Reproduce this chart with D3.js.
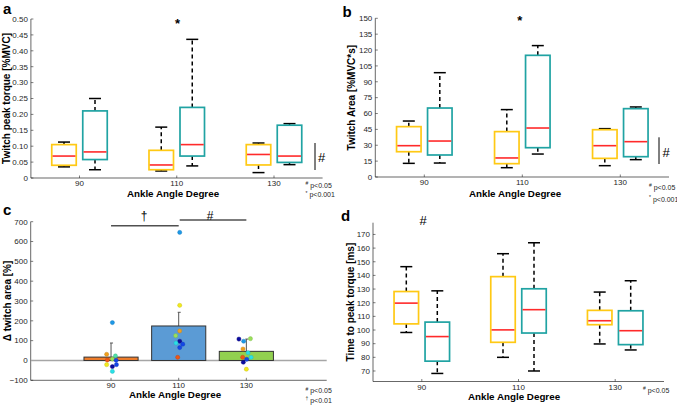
<!DOCTYPE html>
<html><head><meta charset="utf-8">
<script src="https://cdn.jsdelivr.net/npm/d3@7"></script>
<style>body{margin:0;background:#fff}svg{display:block;font-family:"Liberation Sans",Arial,Helvetica,sans-serif}</style>
</head><body><svg id="chart" width="677" height="405"></svg>
<script>
// ---------------- DATA ----------------
const angles = [90, 110, 130];
// five-number summaries: [lower whisker, Q1, median, Q3, upper whisker]
const torqueYellow = [[0.035,0.040,0.069,0.105,0.113],[0.022,0.026,0.041,0.087,0.160],[0.017,0.041,0.074,0.105,0.110]];
const torqueTeal   = [[0.026,0.058,0.082,0.211,0.250],[0.038,0.069,0.105,0.222,0.436],[0.042,0.049,0.069,0.166,0.171]];
const areaYellow   = [[12.9,23.9,29.6,47.6,52.9],[8.8,12.6,18.0,42.9,63.7],[10.7,17.6,29.6,44.7,45.7]];
const areaTeal     = [[13.2,20.8,34.0,65.2,98.6],[21.7,27.7,46.3,115.0,124.2],[16.4,19.2,33.4,64.6,66.2]];
const ttpYellow    = [[98.2,104.5,119.7,128.2,146.4],[80.0,91.0,100.1,139.1,155.9],[89.8,103.9,106.8,114.4,127.8]];
const ttpTeal      = [[68.2,77.2,95.2,105.8,128.7],[70.0,97.8,114.9,130.2,163.9],[85.4,89.3,99.5,114.1,136.1]];
const torqueTicks = [0,0.05,0.10,0.15,0.20,0.25,0.30,0.35,0.40,0.45,0.50];
const areaTicks = [0,15,30,45,60,75,90,105,120,135,150];
const ttpTicks = [70,80,90,100,110,120,130,140,150,160,170];
// panel c: mean change in twitch area and SD
const deltaMean = [17, 174, 46];
const deltaSD = [71, 69, 62];
const deltaTicks = [-100,0,100,200,300,400,500,600,700];
// individual subjects (value, x-jitter in degrees, colour index)
const pts90  = [191, 31, 23, 7, 2, 1, -21, -21, -31, -55];
const jit90  = [0.4,-1.3,1.3,0.4,-1.1,1.5,-1.3,1.6,0.4,0.4];
const col90  = [2,7,4,5,8,1,6,1,0,3];
const pts110 = [646, 278, 149, 125, 97, 88, 82, 65, 16];
const jit110 = [0.3,0.3,0.3,-0.9,0.3,-0.8,1.2,0.3,-0.3];
const col110 = [2,6,7,5,0,3,1,1,8];
const pts130 = [108, 97, 110, 58, 39, 16, 16, 6, -9, -44];
const jit130 = [-2.2,-0.8,1.2,-1.0,0.5,-1.1,1.4,0.1,-0.9,0];
const col130 = [0,2,5,7,3,8,3,1,0,6];
const dotPalette = ["#0c0c9e","#1446e6","#1e98e6","#2ae0e6","#4ee0a6","#9ae05a","#f2ea1e","#f0a01e","#ee5614"];

// ---------------- STYLE ----------------
const YEL = "#FFC914", TEAL = "#20A3A3", MED = "#FF2A2A", AX = "#262626";
const barColors = ["#F07D2A","#5B9BD5","#92D050"];
const svg = d3.select("#chart");

function yAxisDraw(g, y, x0, ticks, fmt){
  g.append("line").attr("x1",x0).attr("x2",x0).attr("y1",y.range()[0]).attr("y2",y.range()[1])
    .attr("stroke",AX).attr("stroke-width",0.7);
  ticks.forEach(t=>{
    g.append("line").attr("x1",x0).attr("x2",x0+2.5).attr("y1",y(t)).attr("y2",y(t)).attr("stroke",AX).attr("stroke-width",0.6);
    g.append("text").attr("x",x0-3).attr("y",y(t)+2.8).attr("text-anchor","end")
      .attr("font-size",8).attr("fill",AX).text(fmt(t));
  });
}
function xAxisDraw(g, x, x0, x1, yb, cats){
  g.append("line").attr("x1",x0).attr("x2",x1).attr("y1",yb).attr("y2",yb).attr("stroke",AX).attr("stroke-width",0.7);
  cats.forEach(c=>{
    g.append("line").attr("x1",x(c)).attr("x2",x(c)).attr("y1",yb).attr("y2",yb-2.5).attr("stroke",AX).attr("stroke-width",0.6);
    g.append("text").attr("x",x(c)).attr("y",yb+8).attr("text-anchor","middle").attr("font-size",8).attr("fill",AX).text(c);
  });
}
function label(g, txt, x, y, opts={}){
  const t = g.append("text").attr("x",x).attr("y",y).attr("font-size",opts.size||10)
    .attr("font-weight",opts.bold===false?"normal":"bold").attr("fill",opts.fill||"#000")
    .attr("text-anchor",opts.anchor||"middle").text(txt);
  if(opts.rot) t.attr("transform",`rotate(-90,${x},${y})`);
  return t;
}
function legend(g, x, y, sym, txt){
  const t = g.append("text").attr("x",x).attr("y",y).attr("font-size",7).attr("fill",AX);
  t.append("tspan").attr("font-size",5).attr("dy",-2.5).text(sym);
  t.append("tspan").attr("dy",2.5).text(" "+txt);
}

function boxPanel(o){
  const g = svg.append("g");
  const y = d3.scaleLinear().domain(o.yDomain).range([o.yb,o.yt]);
  const x = d3.scalePoint().domain(angles).range(o.centers);
  yAxisDraw(g,y,o.x0,o.ticks,o.fmt);
  xAxisDraw(g,x,o.x0,o.x1,o.yb,angles);
  const off = 15.5, hw = 12.25, cap = 6;
  [o.s1,o.s2].forEach((ser,si)=>{
    const color = si===0?YEL:TEAL;
    ser.forEach((v,i)=>{
      const cx = x(angles[i]) + (si===0?-off:off);
      const [lo,q1,md,q3,hi] = v;
      g.append("line").attr("x1",cx).attr("x2",cx).attr("y1",y(q3)).attr("y2",y(hi)).attr("stroke","#000").attr("stroke-width",1.5).attr("stroke-dasharray","4,3");
      g.append("line").attr("x1",cx).attr("x2",cx).attr("y1",y(q1)).attr("y2",y(lo)).attr("stroke","#000").attr("stroke-width",1.5).attr("stroke-dasharray","4,3");
      [hi,lo].forEach(w=>g.append("line").attr("x1",cx-cap).attr("x2",cx+cap).attr("y1",y(w)).attr("y2",y(w)).attr("stroke","#000").attr("stroke-width",1.5));
      g.append("rect").attr("x",cx-hw).attr("width",2*hw).attr("y",y(q3)).attr("height",y(q1)-y(q3))
        .attr("fill","#fff").attr("stroke",color).attr("stroke-width",1.7);
      g.append("line").attr("x1",cx-hw+0.8).attr("x2",cx+hw-0.8).attr("y1",y(md)).attr("y2",y(md)).attr("stroke",MED).attr("stroke-width",1.6);
    });
  });
  label(g, o.ylabel, o.ylx, (o.yb+o.yt)/2, {rot:true});
  label(g, "Ankle Angle Degree", o.xlx, o.xly, {size:9.8});
  label(g, o.letter, o.letX, o.letY, {size:15, anchor:"start"});
  return {g,x,y};
}

// Panel a
const pa = boxPanel({x0:30.9,x1:322.6,yt:19,yb:178,centers:[79.5,274],yDomain:[0,0.5],ticks:torqueTicks,
  fmt:d=>d===0?"0":d3.format(".2f")(d), s1:torqueYellow, s2:torqueTeal,
  ylabel:"Twitch peak torque [%MVC]", ylx:10, xlx:173, xly:196.5, letter:"a", letX:3, letY:14});
label(pa.g,"*",177.5,27.5,{size:13});
pa.g.append("line").attr("x1",315).attr("x2",315).attr("y1",143).attr("y2",170).attr("stroke","#000").attr("stroke-width",1);
label(pa.g,"#",318,162,{size:13,bold:false,anchor:"start"});
legend(pa.g,305.5,187.5,"#","p<0.05");
legend(pa.g,305.5,197,"*","p<0.001");

// Panel b
const pb = boxPanel({x0:375.3,x1:669,yt:18.3,yb:177,centers:[424.3,620.3],yDomain:[0,150],ticks:areaTicks,
  fmt:d3.format("d"), s1:areaYellow, s2:areaTeal,
  ylabel:"Twitch Area [%MVC*s]", ylx:355, xlx:515, xly:196.5, letter:"b", letX:342.5, letY:16.5});
label(pb.g,"*",519.7,24.5,{size:13});
pb.g.append("line").attr("x1",659).attr("x2",659).attr("y1",137.3).attr("y2",164).attr("stroke","#000").attr("stroke-width",1);
label(pb.g,"#",662.5,157,{size:13,bold:false,anchor:"start"});
legend(pb.g,649,189.5,"#","p<0.05");
legend(pb.g,649,201.5,"*","p<0.001");

// Panel d
const pd = boxPanel({x0:373,x1:664,yt:222.7,yb:381.5,centers:[421.8,615.2],yDomain:[62.3,178.6],ticks:ttpTicks,
  fmt:d3.format("d"), s1:ttpYellow, s2:ttpTeal,
  ylabel:"Time to peak torque [ms]", ylx:354, xlx:514, xly:399.5, letter:"d", letX:341, letY:221});
label(pd.g,"#",423,224.5,{size:13,bold:false});
legend(pd.g,643,392.5,"#","p<0.05");

// Panel c
(function(){
  const g = svg.append("g");
  const x0 = 30.7, x1 = 326.7, yt = 221.7, yb = 380.3;
  const x = d3.scaleLinear().domain([66.25,153.75]).range([x0,x1]);
  const y = d3.scaleLinear().domain([-100,700]).range([yb,yt]);
  yAxisDraw(g,y,x0,deltaTicks,d3.format("d"));
  xAxisDraw(g,x,x0,x1,yb,angles);
  g.append("line").attr("x1",x0).attr("x2",x1).attr("y1",y(0)).attr("y2",y(0)).attr("stroke","#a6a6a6").attr("stroke-width",1.5);
  const bw = 8;
  angles.forEach((a,i)=>{
    g.append("line").attr("x1",x(a)).attr("x2",x(a)).attr("y1",y(deltaMean[i])).attr("y2",y(deltaMean[i]+deltaSD[i])).attr("stroke","#555").attr("stroke-width",1);
    g.append("line").attr("x1",x(a)-1).attr("x2",x(a)+2).attr("y1",y(deltaMean[i]+deltaSD[i])).attr("y2",y(deltaMean[i]+deltaSD[i])).attr("stroke","#555").attr("stroke-width",1);
    g.append("rect").attr("x",x(a-bw)).attr("width",x(a+bw)-x(a-bw)).attr("y",y(deltaMean[i])).attr("height",y(0)-y(deltaMean[i]))
      .attr("fill",barColors[i]).attr("stroke","#333").attr("stroke-width",1);
  });
  [[pts90,jit90,col90],[pts110,jit110,col110],[pts130,jit130,col130]].forEach(([pv,jv,cv],i)=>{
    pv.forEach((v,k)=>{
      g.append("circle").attr("cx",x(angles[i]+jv[k])).attr("cy",y(v)).attr("r",2.1)
        .attr("fill",dotPalette[cv[k]]).attr("stroke",d3.color(dotPalette[cv[k]]).darker(0.6)).attr("stroke-width",0.4);
    });
  });
  // significance bars
  g.append("line").attr("x1",x(90)).attr("x2",x(110)).attr("y1",y(680)).attr("y2",y(680)).attr("stroke","#505050").attr("stroke-width",1.5);
  g.append("line").attr("x1",x(110)+1).attr("x2",x(130)).attr("y1",y(708)).attr("y2",y(708)).attr("stroke","#505050").attr("stroke-width",1.5);
  label(g,"\u2020",144.2,220,{size:12,bold:false});
  label(g,"#",210,219.5,{size:12,bold:false});
  label(g,"\u0394 twitch area [%]",11,(yt+yb)/2,{rot:true});
  label(g,"Ankle Angle Degree",175,398.3,{size:9.8});
  label(g,"c",3,215,{size:15,anchor:"start"});
  legend(g,305.5,393,"#","p<0.05");
  legend(g,305.5,402.5,"\u2020","p<0.01");
})();
</script></body></html>
